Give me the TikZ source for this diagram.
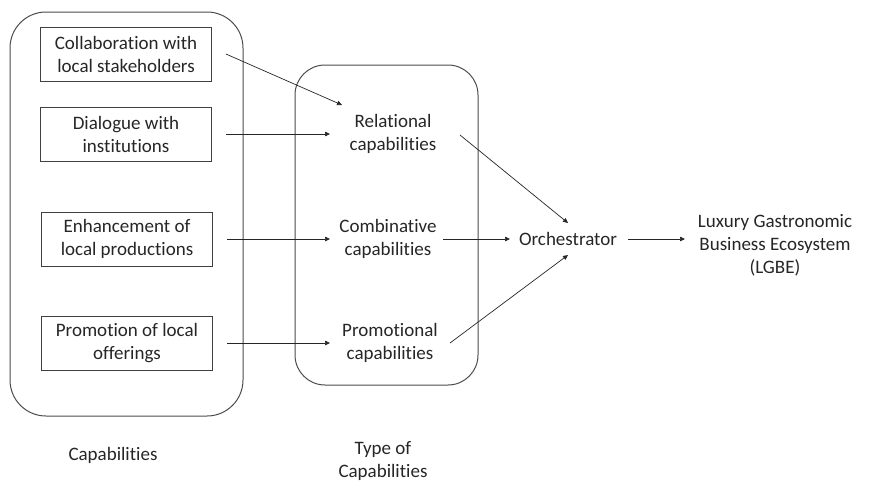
\documentclass[tikz,border=0pt]{standalone}
\usepackage{fontspec}
\setmainfont{Carlito}[Ligatures=NoCommon]
\usetikzlibrary{arrows.meta}
\begin{document}
\begin{tikzpicture}[x=1pt,y=-1pt,
  every node/.style={font=\fontsize{19}{23}\selectfont, align=center, text=black!85},
  capbox/.style={draw=black!75, line width=0.8pt, minimum width=171pt, minimum height=54pt, inner sep=0pt},
  group/.style={draw=black!70, line width=1pt},
  arr/.style={-{Triangle[length=5pt,width=4.5pt]}, line width=0.7pt, draw=black!85}]
\useasboundingbox (0,0) rectangle (869,482);
% group boxes
\node[group, rounded corners=36pt, minimum width=233pt, minimum height=404pt] (capgroup) at (126.5,214) {};
\node[group, rounded corners=30pt, minimum width=183pt, minimum height=320pt] (typegroup) at (386.5,225) {};
% capability boxes
\node[capbox] (b1) at (126,54) {Collaboration with\\local stakeholders};
\node[capbox] (b2) at (126,134) {Dialogue with\\institutions};
\node[capbox] (b3) at (127,239) {Enhancement of\\local productions};
\node[capbox] (b4) at (127,343) {Promotion of local\\offerings};
% type nodes
\node (rel) at (393,134) {Relational\\capabilities};
\node (comb) at (388,239) {Combinative\\capabilities};
\node (promo) at (390,343) {Promotional\\capabilities};
\node (orch) at (568,239) {Orchestrator};
\node (lgbe) at (775,245) {Luxury Gastronomic\\Business Ecosystem\\(LGBE)};
% labels
\node (caplabel) at (113,455) {Capabilities};
\node (typelabel) at (383,461) {Type of\\Capabilities};
% arrows
\draw[arr] ([xshift=14pt]b1.east) -- ([shift={(-51,-29)}]rel.center);
\draw[arr] ([xshift=14pt]b2.east) -- ([xshift=-63pt]rel.center);
\draw[arr] ([xshift=14pt]b3.east) -- ([xshift=-58pt]comb.center);
\draw[arr] ([xshift=14pt]b4.east) -- ([xshift=-60pt]promo.center);
\draw[arr] ([shift={(67,1)}]rel.center) -- ([shift={(0,-16)}]orch.center);
\draw[arr] ([xshift=55pt]comb.center) -- ([xshift=-58pt]orch.center);
\draw[arr] ([shift={(60,0)}]promo.center) -- ([shift={(0,16)}]orch.center);
\draw[arr] ([xshift=60pt]orch.center) -- ([shift={(-90,-6)}]lgbe.center);
\end{tikzpicture}
\end{document}
